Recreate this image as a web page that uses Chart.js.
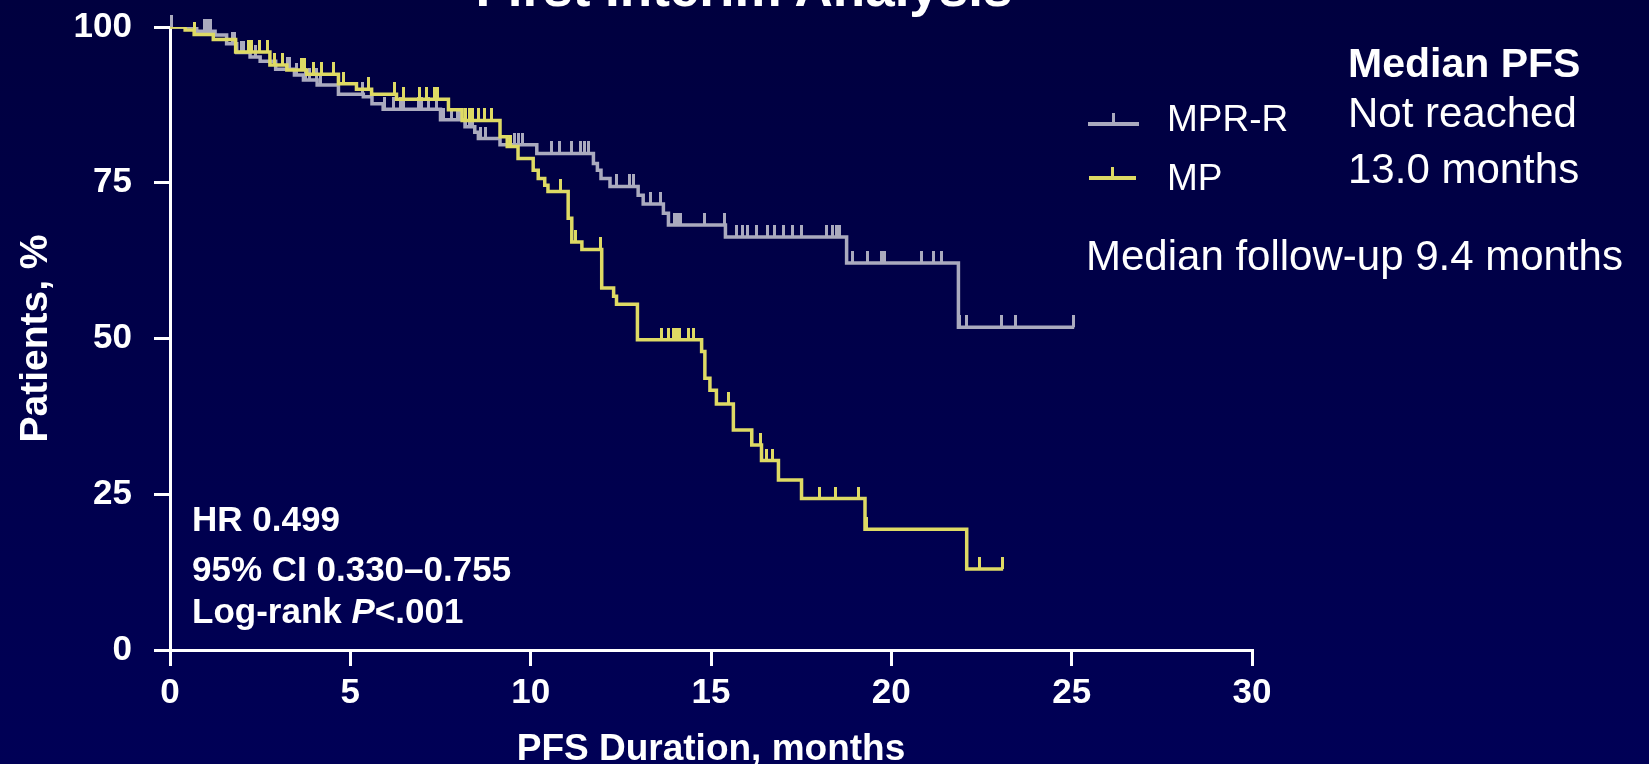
<!DOCTYPE html>
<html>
<head>
<meta charset="utf-8">
<script src="https://cdn.jsdelivr.net/npm/chart.js@4.4.1/dist/chart.umd.min.js"></script>
<style>
  html, body { margin:0; padding:0; width:1649px; height:764px; overflow:hidden;
    background: linear-gradient(to bottom, #00003f 0%, #00004c 55%, #000056 100%);
    font-family: "Liberation Sans", Arial, sans-serif; color:#fff; }
  #wrap { position:relative; width:1649px; height:764px; }
  canvas { position:absolute; left:0; top:0; }
  .t { position:absolute; white-space:nowrap; line-height:1; color:#fff; }
  .b { font-weight:bold; }
  .sym { position:absolute; }
</style>
</head>
<body>
<div id="wrap">
  <canvas id="c" width="1649" height="764"></canvas>
  <div class="t b" style="left:0; width:1488px; text-align:center; top:-39px; font-size:53px;">First Interim Analysis</div>
  <div class="t b" style="left:1348px; top:43px; font-size:41px;">Median PFS</div>
  <div class="t" style="left:1348px; top:92px; font-size:42px;">Not reached</div>
  <div class="t" style="left:1348px; top:148px; font-size:42px;">13.0 months</div>
  <div class="t" style="left:1167px; top:100px; font-size:37px;">MPR-R</div>
  <div class="t" style="left:1167px; top:159px; font-size:37px;">MP</div>
  <div class="sym" style="left:1088px; top:122px; width:51px; height:4px; background:#AAAABE;"></div>
  <div class="sym" style="left:1112px; top:113px; width:3px; height:10px; background:#AAAABE;"></div>
  <div class="sym" style="left:1089px; top:176px; width:47px; height:4px; background:#DEDA64;"></div>
  <div class="sym" style="left:1111px; top:167px; width:3px; height:10px; background:#DEDA64;"></div>
  <div class="t" style="left:1086px; top:235px; font-size:42px;">Median follow-up 9.4 months</div>
  <div class="t b" style="left:192px; top:501px; font-size:35px;">HR 0.499</div>
  <div class="t b" style="left:192px; top:551px; font-size:35px;">95% CI 0.330–0.755</div>
  <div class="t b" style="left:192px; top:593px; font-size:35px;">Log-rank <i>P</i>&lt;.001</div>
</div>
<script>
// ---- data ----
const xTicks = [0, 5, 10, 15, 20, 25, 30];
const yTicks = [0, 25, 50, 75, 100];

const mprrTimes = [0, 0.74, 1.25, 1.57, 1.85, 2.22, 2.5, 2.93, 3.45, 3.7, 4.08, 4.67, 5.36, 5.6, 5.91, 7.5, 8.18, 8.45, 8.55, 9.15, 10.17, 11.74, 11.85, 11.95, 12.2, 12.98, 13.12, 13.68, 13.82, 15.4, 18.76, 21.86, 25.07];
const mprrSurv  = [100, 99.3, 98.7, 97.3, 95.9, 95.2, 94.5, 93.2, 92.3, 91.5, 90.7, 89.2, 88.8, 87.7, 86.8, 85.1, 84.0, 83.1, 82.1, 81.1, 79.7, 78.1, 77.0, 75.7, 74.4, 73.0, 71.6, 70.1, 68.2, 66.3, 62.1, 51.8, 51.8];
const mprrCensored = [0.03, 0.97, 1.04, 1.12, 1.73, 1.8, 1.97, 2.05, 2.36, 3.26, 3.32, 3.5, 3.76, 3.86, 4.07, 4.16, 5.33, 5.96, 6.19, 6.4, 6.48, 6.9, 6.98, 7.16, 7.39, 7.58, 7.81, 7.97, 8.04, 8.2, 8.3, 8.4, 8.62, 8.75, 9.56, 9.66, 9.76, 10.58, 10.81, 11.14, 11.37, 11.5, 11.6, 12.38, 12.75, 12.84, 13.31, 13.6, 14.0, 14.08, 14.15, 14.83, 15.37, 15.71, 15.88, 16.01, 16.26, 16.56, 16.77, 17.0, 17.26, 17.51, 18.2, 18.37, 18.48, 18.57, 18.92, 19.33, 19.72, 19.8, 20.84, 21.16, 21.39, 21.9, 22.09, 23.06, 23.45, 25.06];

const mpTimes = [0, 0.42, 0.67, 1.2, 1.82, 2.77, 3.24, 3.79, 4.67, 5.17, 5.59, 6.28, 7.72, 8.1, 9.15, 9.35, 9.65, 10.07, 10.21, 10.39, 10.48, 11.04, 11.14, 11.42, 11.97, 12.3, 12.38, 12.96, 14.74, 14.83, 14.97, 15.15, 15.62, 16.13, 16.4, 16.87, 17.51, 19.27, 22.09, 23.1];
const mpSurv  = [100, 99.5, 98.8, 98.0, 96.0, 93.9, 93.1, 92.4, 90.9, 90.0, 89.2, 88.4, 86.7, 85.0, 82.4, 80.8, 78.9, 77.0, 75.7, 74.6, 73.6, 69.3, 65.5, 64.3, 58.1, 56.8, 55.5, 49.8, 47.9, 43.6, 41.7, 39.5, 35.3, 32.9, 30.4, 27.3, 24.3, 19.4, 13.0, 13.0];
const mpCensored = [0.69, 2.17, 2.26, 2.48, 2.7, 2.9, 3.13, 3.65, 3.74, 3.97, 4.2, 4.53, 4.8, 5.5, 6.22, 6.47, 6.92, 7.1, 7.32, 7.42, 8.2, 8.3, 8.38, 8.55, 8.73, 8.92, 9.43, 10.84, 11.25, 11.93, 13.63, 13.82, 13.96, 14.05, 14.14, 14.37, 14.51, 15.48, 16.36, 16.54, 16.71, 18.0, 18.44, 19.08, 19.32, 22.45, 23.08];

const GRAY = '#AAAABE';
const YEL = '#DEDA64';
const FONT = '"Liberation Sans", Arial, sans-serif';

// ---- helpers ----
function stepPoints(times, surv) { return times.map((t, i) => ({x: t, y: surv[i]})); }
function censorPoints(cens, times, surv) {
  return cens.map(t => {
    let v = surv[0];
    for (let i = 0; i < times.length; i++) { if (times[i] <= t) v = surv[i]; }
    return {x: t, y: v};
  });
}
function tickImage(color) {
  const c = document.createElement('canvas');
  c.width = 3; c.height = 24;
  const g = c.getContext('2d');
  g.fillStyle = color; g.fillRect(0, 0, 3, 12);
  return c;
}

const ctx = document.getElementById('c').getContext('2d');
new Chart(ctx, {
  type: 'line',
  data: {
    datasets: [
      { label: 'MP', data: stepPoints(mpTimes, mpSurv), borderColor: YEL, borderWidth: 3.5, stepped: true, pointRadius: 0, fill: false },
      { label: 'MP censored', data: censorPoints(mpCensored, mpTimes, mpSurv), showLine: false, pointStyle: tickImage(YEL), pointRadius: 2, clip: false },
      { label: 'MPR-R', data: stepPoints(mprrTimes, mprrSurv), borderColor: GRAY, borderWidth: 3.5, stepped: true, pointRadius: 0, fill: false },
      { label: 'MPR-R censored', data: censorPoints(mprrCensored, mprrTimes, mprrSurv), showLine: false, pointStyle: tickImage(GRAY), pointRadius: 2, clip: false }
    ]
  },
  options: {
    responsive: false, animation: false, devicePixelRatio: 1,
    layout: { padding: { top: 27, right: 397, left: 0, bottom: 0 } },
    plugins: { legend: { display: false }, tooltip: { enabled: false } },
    scales: {
      x: {
        type: 'linear', min: 0, max: 30,
        afterBuildTicks: s => { s.ticks = xTicks.map(v => ({value: v})); },
        ticks: { color: '#fff', font: { family: FONT, size: 35, weight: 'bold' }, padding: 6, maxRotation: 0 },
        grid: { drawOnChartArea: false, color: '#fff', tickLength: 16, lineWidth: 3, tickWidth: 3 },
        border: { color: '#fff', width: 3 },
        title: { display: true, text: 'PFS Duration, months', color: '#fff', font: { family: FONT, size: 37, weight: 'bold', lineHeight: 0.9 }, padding: { top: 0, bottom: -2 } },
        afterFit: s => { s.height = 114; }
      },
      y: {
        min: 0, max: 100,
        afterBuildTicks: s => { s.ticks = yTicks.map(v => ({value: v})); },
        ticks: { color: '#fff', font: { family: FONT, size: 35, weight: 'bold' }, padding: 22 },
        grid: { drawOnChartArea: false, color: '#fff', tickLength: 16, lineWidth: 3, tickWidth: 3 },
        border: { color: '#fff', width: 3 },
        title: { display: true, text: 'Patients, %', color: '#fff', font: { family: FONT, size: 39, weight: 'bold', lineHeight: 1.2 }, padding: { top: 13, bottom: 0 } },
        afterFit: s => { s.width = 170; s.paddingTop = 0; s.paddingBottom = 0; }
      }
    }
  }
});
</script>
</body>
</html>
